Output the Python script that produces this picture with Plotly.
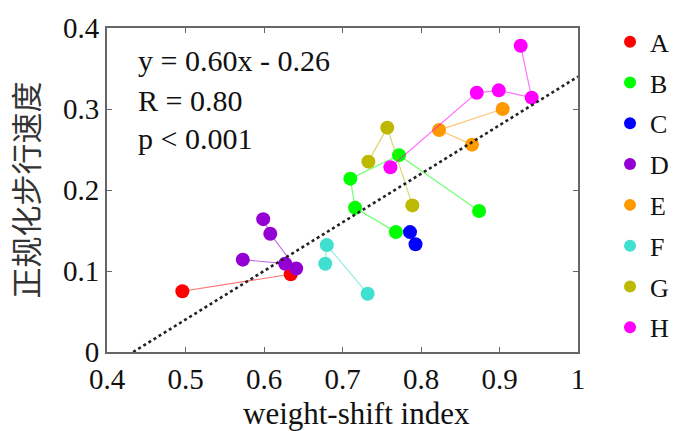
import plotly.graph_objects as go

# Subjects and their repeated measurements (weight-shift index vs normalized walking speed)
groups = ["A", "B", "C", "D", "E", "F", "G", "H"]
colors = ["#ff0000", "#00ff00", "#0000ff", "#9400d3", "#ff9900", "#40e0d0", "#bdb800", "#ff00ff"]

a_x = [0.496, 0.634]
a_y = [0.075, 0.096]
b_x = [0.768, 0.716, 0.710, 0.772, 0.874]
b_y = [0.148, 0.178, 0.214, 0.243, 0.174]
c_x = [0.786, 0.793]
c_y = [0.148, 0.133]
d_x = [0.599, 0.608, 0.641, 0.627, 0.573]
d_y = [0.164, 0.146, 0.103, 0.109, 0.114]
e_x = [0.904, 0.823, 0.865]
e_y = [0.300, 0.274, 0.256]
f_x = [0.678, 0.680, 0.732]
f_y = [0.109, 0.132, 0.072]
g_x = [0.733, 0.757, 0.789]
g_y = [0.235, 0.277, 0.181]
h_x = [0.927, 0.941, 0.899, 0.871, 0.761]
h_y = [0.378, 0.314, 0.323, 0.320, 0.228]

series_x = [a_x, b_x, c_x, d_x, e_x, f_x, g_x, h_x]
series_y = [a_y, b_y, c_y, d_y, e_y, f_y, g_y, h_y]

# Linear regression line
slope = 0.60
intercept = -0.26
r_value = 0.80
x_max = 1.0

x_ticks = [0.4, 0.5, 0.6, 0.7, 0.8, 0.9, 1.0]
x_tick_text = ["0.4", "0.5", "0.6", "0.7", "0.8", "0.9", "1"]
y_ticks = [0, 0.1, 0.2, 0.3, 0.4]
y_tick_text = ["0", "0.1", "0.2", "0.3", "0.4"]

serif = "Liberation Serif, Times New Roman, serif"

fig = go.Figure()

for name, col, xs, ys in zip(groups, colors, series_x, series_y):
    fig.add_trace(go.Scatter(
        x=xs, y=ys, mode="lines", showlegend=False, hoverinfo="skip",
        legendgroup=name, line=dict(color=col, width=1.2), opacity=0.55,
    ))
    fig.add_trace(go.Scatter(
        x=xs, y=ys, mode="markers", name=name, legendgroup=name,
        marker=dict(color=col, size=14, line=dict(width=0)),
    ))

x0 = -intercept / slope
fig.add_trace(go.Scatter(
    x=[x0, x_max], y=[slope * x0 + intercept, slope * x_max + intercept],
    mode="lines", showlegend=False, hoverinfo="skip",
    line=dict(color="#222222", width=2.6, dash="dot"),
))

stats_lines = [
    f"y = {slope:.2f}x - {abs(intercept):.2f}",
    f"R = {r_value:.2f}",
    "p < 0.001",
]
stats_y = [0.899, 0.776, 0.659]
for txt, yy in zip(stats_lines, stats_y):
    fig.add_annotation(
        text=txt, xref="paper", yref="paper", x=0.062, y=yy,
        xanchor="left", yanchor="middle", showarrow=False,
        font=dict(family=serif, size=30, color="#111111"),
    )

fig.add_annotation(
    text="weight-shift index", xref="paper", yref="paper",
    x=0.529, y=0, yshift=-61, xanchor="center", yanchor="middle",
    showarrow=False, font=dict(family=serif, size=31, color="#111111"),
)

axis_common = dict(
    showgrid=False, zeroline=False, showline=True, linecolor="#666666",
    linewidth=2, mirror="ticks", ticks="inside", ticklen=5, tickwidth=1,
    tickcolor="#666666", tickfont=dict(family=serif, size=29, color="#111111"),
)

fig.update_xaxes(range=[0.4, 1.0], tickvals=x_ticks, ticktext=x_tick_text, **axis_common)
fig.update_yaxes(
    range=[0, 0.4], tickvals=y_ticks, ticktext=y_tick_text,
    title=dict(text="正规化步行速度", standoff=15,
               font=dict(family="Noto Sans CJK SC", size=31, color="#333333")),
    **axis_common,
)

fig.update_layout(
    width=674, height=431,
    margin=dict(l=107, r=96, t=28, b=79, autoexpand=False),
    paper_bgcolor="white", plot_bgcolor="white",
    legend=dict(
        x=1.068, y=1.03, xanchor="left", yanchor="top",
        font=dict(family=serif, size=26, color="#111111"),
        itemsizing="constant", bgcolor="rgba(0,0,0,0)",
        traceorder="grouped", tracegroupgap=4, maxheight=420,
    ),
)

fig.write_html("out.html")
